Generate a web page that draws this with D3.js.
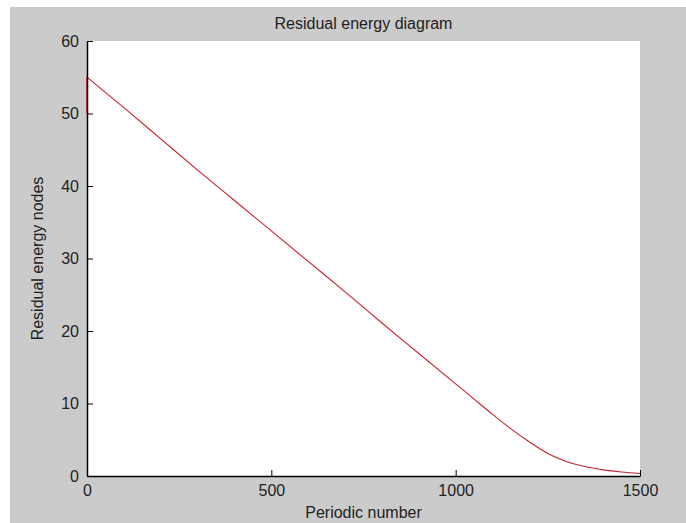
<!DOCTYPE html>
<html>
<head>
<meta charset="utf-8">
<script src="https://cdnjs.cloudflare.com/ajax/libs/d3/7.8.5/d3.min.js"></script>
<style>
  body { margin: 0; background: #fff; }
  text { font-family: "Liberation Sans", Arial, sans-serif; fill: #222; }
</style>
</head>
<body>
<script>

var margin = {top: 41, right: 46, bottom: 47, left: 87}; // plot area inside the gray figure

var totalWidth = 686;
var totalHeight = 523;
var width = totalWidth - margin.left - margin.right;
var height = totalHeight - margin.top - margin.bottom;

// data
var periods = [0, 100, 200, 300, 400, 500, 600, 700, 800, 900, 1000, 1050, 1100, 1150, 1200, 1250, 1300, 1350, 1400, 1450, 1500];
var energy  = [55, 50.8, 46.5, 42.2, 38.0, 33.8, 29.6, 25.4, 21.1, 16.9, 12.7, 10.6, 8.5, 6.5, 4.7, 3.1, 2.0, 1.3, 0.85, 0.55, 0.35];

// first step at period 0 (energy jumps 50 -> 55)
var startPeriods = [0, 0];
var startEnergy  = [50, 55];

var xTicks = [0, 500, 1000, 1500];
var yTicks = [0, 10, 20, 30, 40, 50, 60];

var chartTitle = "Residual energy diagram";
var xLabel = "Periodic number";
var yLabel = "Residual energy nodes";

var xScale = d3.scaleLinear().domain([0, 1500]).range([0, width]);
var yScale = d3.scaleLinear().domain([0, 60]).range([height, 0]);

var root = d3.select("body").append("svg")
    .attr("width", totalWidth)
    .attr("height", totalHeight);

// gray figure background (screenshot has a thin white border top/left)
root.append("rect")
    .attr("x", 10).attr("y", 7)
    .attr("width", totalWidth - 10).attr("height", totalHeight - 7)
    .attr("fill", "#cbcbcb");

var svg = root.append("g")
    .attr("transform", "translate(" + margin.left + "," + margin.top + ")");

svg.append("rect")
    .attr("width", width)
    .attr("height", height)
    .attr("fill", "#fff");

// the curve
var points = periods.map(function(p, i) { return {x: p, y: energy[i]}; });
var startPoints = startPeriods.map(function(p, i) { return {x: p, y: startEnergy[i]}; });

var line = d3.line()
    .x(function(d) { return xScale(d.x); })
    .y(function(d) { return yScale(d.y); })
    .curve(d3.curveMonotoneX);

svg.append("path")
    .datum(points)
    .attr("fill", "none")
    .attr("stroke", "#c8202e")
    .attr("stroke-width", 1.1)
    .attr("d", line);

svg.append("path")
    .datum(startPoints)
    .attr("fill", "none")
    .attr("stroke", "#e8202e")
    .attr("stroke-width", 1.5)
    .attr("d", line.curve(d3.curveLinear));

// axes, MATLAB style: ticks pointing inside, no box
var xAxis = d3.axisBottom(xScale).tickValues(xTicks).tickFormat(d3.format("d"))
    .tickSizeInner(-6).tickSizeOuter(0).tickPadding(9);
var yAxis = d3.axisLeft(yScale).tickValues(yTicks).tickFormat(d3.format("d"))
    .tickSizeInner(-6).tickSizeOuter(0).tickPadding(8);

svg.append("g")
    .attr("class", "x axis")
    .attr("transform", "translate(0," + height + ")")
    .call(xAxis);

svg.append("g")
    .attr("class", "y axis")
    .call(yAxis);

svg.selectAll(".axis path").attr("stroke", "#000").attr("stroke-width", 1.5);
svg.selectAll(".axis line").attr("stroke", "#000").attr("stroke-width", 1);
svg.selectAll(".axis text").style("font-size", "16px").attr("fill", "#222");

// titles
svg.append("text")
    .attr("x", width / 2)
    .attr("y", -12)
    .attr("text-anchor", "middle")
    .style("font-size", "16px")
    .text(chartTitle);

svg.append("text")
    .attr("x", width / 2)
    .attr("y", height + 42)
    .attr("text-anchor", "middle")
    .style("font-size", "16px")
    .text(xLabel);

svg.append("text")
    .attr("transform", "translate(-44," + (height / 2) + ") rotate(-90)")
    .attr("text-anchor", "middle")
    .style("font-size", "16px")
    .text(yLabel);

</script>
</body>
</html>
